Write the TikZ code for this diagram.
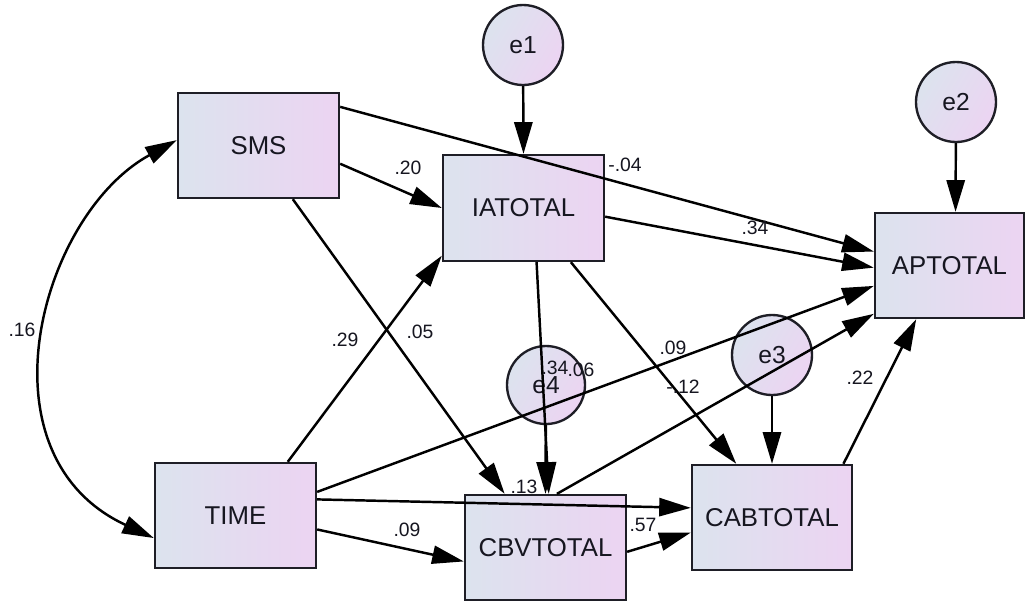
\documentclass[tikz,border=0pt]{standalone}
\usepackage{fontspec}
\setmainfont{Liberation Sans}
\usetikzlibrary{arrows.meta,calc}
\definecolor{fillL}{RGB}{220,227,238}
\definecolor{fillR}{RGB}{236,212,242}
\definecolor{ink}{RGB}{22,22,32}
\definecolor{rim}{RGB}{30,30,38}
\begin{document}
\begin{tikzpicture}[x=0.03cm,y=-0.03cm,
  obs/.style={draw=rim,line width=2pt,left color=fillL,right color=fillR,
    minimum width=4.83cm,minimum height=3.15cm,inner sep=0pt,text=ink,
    font=\fontsize{22}{25}\selectfont},
  err/.style={circle,draw=rim,line width=2pt,left color=fillL,right color=fillR,
    shading angle=60,minimum size=2.4cm,inner sep=0pt,text=ink,
    font=\fontsize{21}{24}\selectfont},
  lbl/.style={inner sep=0pt,text=ink,font=\fontsize{16.5}{18}\selectfont},
  conn/.style={draw=black,line width=2.1pt,-{Triangle[length=27pt,width=15.5pt]}},
  biconn/.style={draw=black,line width=2.1pt,{Triangle[length=27pt,width=15.5pt]}-{Triangle[length=27pt,width=15.5pt]}}]
\fill[white] (0,0) rectangle (1026,602);
\useasboundingbox (0,0) rectangle (1026,602);

% observed variables
\node[obs] (SMS) at (258.5,145.5) {SMS};
\node[obs,minimum height=3.18cm] (IA) at (523.5,208) {IATOTAL};
\node[obs,minimum width=4.47cm] (AP) at (949.5,265.5) {APTOTAL};
\node[obs] (TIME) at (235.5,515.5) {TIME};
\node[obs] (CBV) at (545.5,547.5) {CBVTOTAL};
\node[obs,minimum width=4.8cm] (CAB) at (772,517.5) {CABTOTAL};

% error terms
\node[err] (e1) at (523,45) {e1};
\node[err] (e2) at (956,102) {e2};
\node[err] (e3) at (772,355) {e3};
\node[err,minimum size=2.34cm] (e4) at (546,385) {e4};

% error arrows
\draw[conn] (e1) -- (IA.north);
\draw[conn] (e2) -- ($(AP.north west)!0.54!(AP.north east)$);
\draw[conn] (e3) -- (CAB.north);
\draw[conn] (e4) -- ($(CBV.north west)!0.50!(CBV.north east)$);

% covariance
\draw[biconn] ($(SMS.north west)!0.45!(SMS.south west)$)
  .. controls (40,215) and (-25,455) .. ($(TIME.north west)!0.71!(TIME.south west)$);

% paths
\draw[conn] ($(SMS.north east)!0.67!(SMS.south east)$) -- (IA.west);
\draw[conn] ($(SMS.north east)!0.14!(SMS.south east)$) -- ($(AP.north west)!0.37!(AP.south west)$);
\draw[conn] ($(IA.north east)!0.58!(IA.south east)$) -- ($(AP.north west)!0.52!(AP.south west)$);
\draw[conn] ($(SMS.south west)!0.71!(SMS.south east)$) -- ($(CBV.north west)!0.25!(CBV.north east)$);
\draw[conn] ($(TIME.north west)!0.82!(TIME.north east)$) -- ($(IA.north west)!0.94!(IA.south west)$);
\draw[conn] ($(TIME.north east)!0.28!(TIME.south east)$) -- ($(AP.north west)!0.69!(AP.south west)$);
\draw[conn] ($(IA.south west)!0.58!(IA.south east)$) -- ($(CBV.north west)!0.52!(CBV.north east)$);
\draw[conn] ($(IA.south west)!0.79!(IA.south east)$) -- ($(CAB.north west)!0.28!(CAB.north east)$);
\draw[conn] ($(CBV.north west)!0.57!(CBV.north east)$) -- ($(AP.north west)!0.95!(AP.south west)$);
\draw[conn] ($(CAB.north west)!0.94!(CAB.north east)$) -- ($(AP.south west)!0.28!(AP.south east)$);
\draw[conn] ($(TIME.north east)!0.35!(TIME.south east)$) -- ($(CAB.north west)!0.41!(CAB.south west)$);
\draw[conn] ($(TIME.north east)!0.63!(TIME.south east)$) -- ($(CBV.north west)!0.63!(CBV.south west)$);
\draw[conn] ($(CBV.north east)!0.54!(CBV.south east)$) -- ($(CAB.north west)!0.64!(CAB.south west)$);

% coefficient labels
\node[lbl] (l16) at (22,330) {.16};
\node[lbl] (l20) at (408,168) {.20};
\node[lbl] (l04) at (625,165) {-.04};
\node[lbl] (l34a) at (755,228) {.34};
\node[lbl] (l29) at (345,340) {.29};
\node[lbl] (l05) at (420,332) {.05};
\node[lbl] (l09a) at (673,348) {.09};
\node[lbl] (l12) at (683,387) {-.12};
\node[lbl] (l22) at (860,378) {.22};
\node[lbl] (l34b) at (555,368) {.34};
\node[lbl] (l06) at (581,370) {.06};
\node[lbl] (l13) at (524,487) {.13};
\node[lbl] (l09b) at (407,530) {.09};
\node[lbl] (l57) at (643,525) {.57};
\end{tikzpicture}
\end{document}
